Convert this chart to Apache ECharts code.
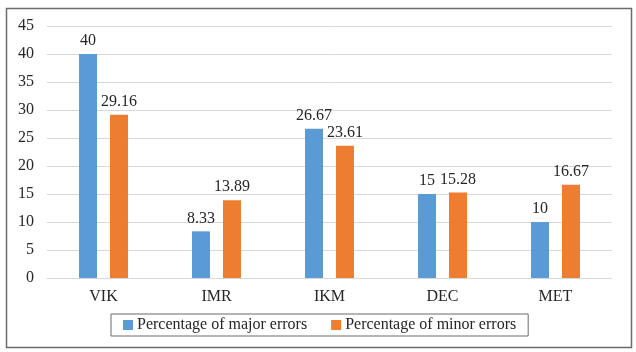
<!DOCTYPE html>
<html>
<head>
<meta charset="utf-8">
<script src="https://cdn.jsdelivr.net/npm/echarts@6/dist/echarts.min.js"></script>
<style>
  html, body { margin: 0; padding: 0; background: #fff; }
  #chart { width: 636px; height: 352px; }
</style>
</head>
<body>
<div id="chart"></div>
<script>
// data
const categories = ['VIK', 'IMR', 'IKM', 'DEC', 'MET'];
const majorErrors = [40, 8.33, 26.67, 15, 10];
const minorErrors = [29.16, 13.89, 23.61, 15.28, 16.67];
const seriesNames = ['Percentage of major errors', 'Percentage of minor errors'];

const font = '"Liberation Serif", "Times New Roman", serif';
const textColor = '#262626';

const chart = echarts.init(document.getElementById('chart'));

const labelStyle = {
  show: true,
  position: 'top',
  distance: 5,
  color: textColor,
  fontFamily: font,
  fontSize: 16
};

chart.setOption({
  backgroundColor: '#fff',
  animation: false,
  textStyle: { fontFamily: font },
  // outer frame
  graphic: [{
    type: 'rect',
    left: 4,
    top: 6,
    shape: { width: 625, height: 339 },
    style: { fill: 'none', stroke: '#6b6b6b', lineWidth: 1.5 },
    silent: true
  }],
  grid: {
    left: 47,
    right: 24,
    top: 26,
    bottom: 74
  },
  legend: {
    data: seriesNames,
    bottom: 16,
    left: 111,
    itemWidth: 10,
    itemHeight: 10,
    itemGap: 24,
    icon: 'rect',
    borderColor: '#6b6b6b',
    borderWidth: 1,
    padding: [3, 12, 3, 12],
    textStyle: { color: textColor, fontFamily: font, fontSize: 16, padding: [0, 0, 0, -1] }
  },
  xAxis: {
    type: 'category',
    data: categories,
    axisLine: { lineStyle: { color: '#d9d9d9' } },
    axisTick: { show: false },
    axisLabel: { color: textColor, fontFamily: font, fontSize: 16, margin: 11 }
  },
  yAxis: {
    type: 'value',
    min: 0,
    max: 45,
    interval: 5,
    axisLine: { show: false },
    axisTick: { show: false },
    axisLabel: { color: textColor, fontFamily: font, fontSize: 16, margin: 13 },
    splitLine: { lineStyle: { color: '#d9d9d9' } }
  },
  series: [
    {
      name: seriesNames[0],
      type: 'bar',
      data: majorErrors,
      barWidth: 18,
      barGap: '72%',
      itemStyle: { color: '#5b9bd5' },
      label: labelStyle
    },
    {
      name: seriesNames[1],
      type: 'bar',
      data: minorErrors,
      barWidth: 18,
      barGap: '72%',
      itemStyle: { color: '#ed7d31' },
      label: labelStyle
    }
  ]
});
</script>
</body>
</html>
